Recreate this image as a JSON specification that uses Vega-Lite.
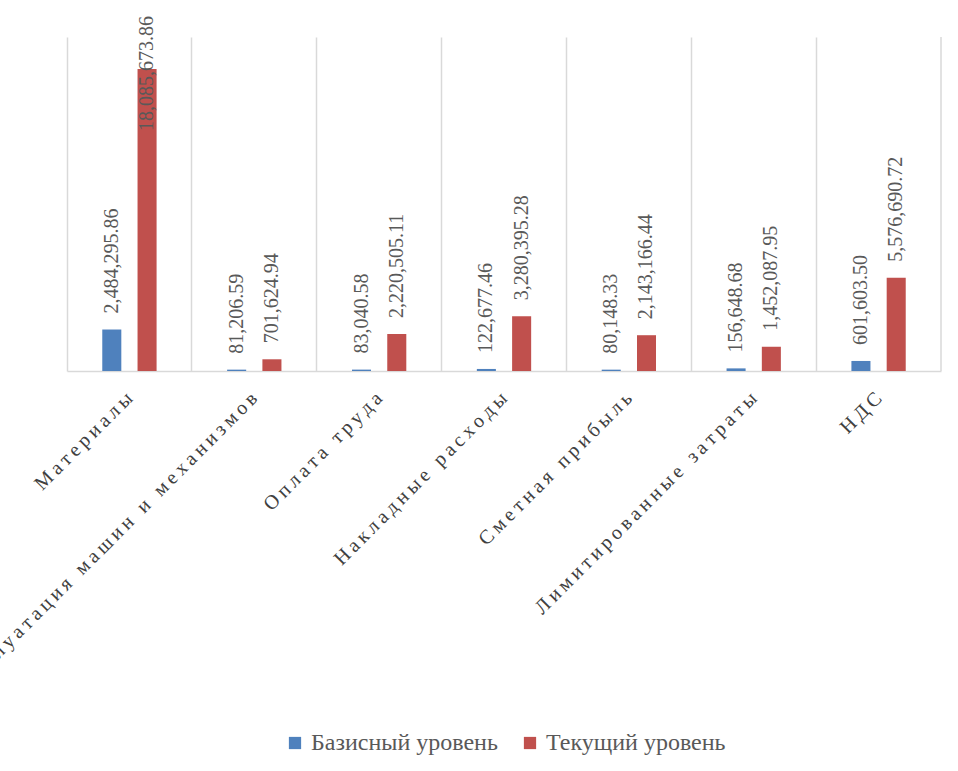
{
  "$schema": "https://vega.github.io/schema/vega-lite/v6.json",
  "autosize": {"type": "none"},
  "width": 874,
  "height": 334,
  "padding": {"left": 67, "top": 37, "right": 17, "bottom": 400},
  "background": "white",
  "config": {
    "view": {"stroke": null},
    "font": "Liberation Serif",
    "legend": {"layout": {"bottom": {"anchor": "middle"}}}
  },
  "data": {
    "values": [
      {"category": "Материалы", "series": "Базисный уровень", "value": 2484295.86},
      {"category": "Материалы", "series": "Текущий уровень", "value": 18085673.86},
      {"category": "Эксплуатация машин и механизмов", "series": "Базисный уровень", "value": 81206.59},
      {"category": "Эксплуатация машин и механизмов", "series": "Текущий уровень", "value": 701624.94},
      {"category": "Оплата труда", "series": "Базисный уровень", "value": 83040.58},
      {"category": "Оплата труда", "series": "Текущий уровень", "value": 2220505.11},
      {"category": "Накладные расходы", "series": "Базисный уровень", "value": 122677.46},
      {"category": "Накладные расходы", "series": "Текущий уровень", "value": 3280395.28},
      {"category": "Сметная прибыль", "series": "Базисный уровень", "value": 80148.33},
      {"category": "Сметная прибыль", "series": "Текущий уровень", "value": 2143166.44},
      {"category": "Лимитированные затраты", "series": "Базисный уровень", "value": 156648.68},
      {"category": "Лимитированные затраты", "series": "Текущий уровень", "value": 1452087.95},
      {"category": "НДС", "series": "Базисный уровень", "value": 601603.5},
      {"category": "НДС", "series": "Текущий уровень", "value": 5576690.72}
    ]
  },
  "encoding": {
    "x": {
      "field": "category",
      "type": "nominal",
      "sort": null,
      "scale": {"paddingInner": 0, "paddingOuter": 0},
      "axis": {
        "title": null,
        "bandPosition": 0,
        "ticks": false,
        "grid": true,
        "gridColor": "#d9d9d9",
        "gridWidth": 1.5,
        "domainColor": "#d9d9d9",
        "domainWidth": 1.5,
        "labelAngle": -45,
        "labelAlign": "right",
        "labelBaseline": "middle",
        "labelPadding": 24,
        "labelFont": "Liberation Serif",
        "labelFontSize": 20,
        "labelColor": "#404040",
        "labelLimit": 0,
        "labelOverlap": false,
        "labelExpr": "join(split(datum.label, ''), '\u2009')"
      }
    }
  },
  "layer": [
    {
      "mark": {"type": "bar"},
      "encoding": {
        "xOffset": {
          "field": "series",
          "type": "nominal",
          "scale": {"paddingInner": 0.46, "paddingOuter": 1.15}
        },
        "y": {
          "field": "value",
          "type": "quantitative",
          "scale": {"domain": [0, 20000000], "nice": false},
          "axis": null
        },
        "color": {
          "field": "series",
          "type": "nominal",
          "scale": {
            "domain": ["Базисный уровень", "Текущий уровень"],
            "range": ["#4F81BD", "#C0504D"]
          },
          "legend": {
            "title": null,
            "orient": "bottom",
            "direction": "horizontal",
            "symbolType": "square",
            "symbolSize": 150,
            "symbolStrokeWidth": 0,
            "labelFont": "Liberation Serif",
            "labelFontSize": 24,
            "labelColor": "#595959",
            "labelLimit": 0,
            "columnPadding": 20,
            "offset": 28
          }
        }
      }
    },
    {
      "mark": {"type": "rule", "color": "#d9d9d9", "strokeWidth": 1.5},
      "transform": [{"filter": "datum.category === 'НДС' && datum.series === 'Текущий уровень'"}],
      "encoding": {
        "x": {"field": "category", "type": "nominal", "sort": null, "bandPosition": 1}
      }
    },
    {
      "mark": {
        "type": "text",
        "angle": 270,
        "align": "left",
        "baseline": "middle",
        "dx": 16,
        "font": "Liberation Serif",
        "fontSize": 20,
        "color": "#595959"
      },
      "transform": [{"filter": "datum.value < 15000000"}],
      "encoding": {
        "xOffset": {
          "field": "series",
          "type": "nominal",
          "scale": {"paddingInner": 0.46, "paddingOuter": 1.15}
        },
        "y": {"field": "value", "type": "quantitative"},
        "text": {"field": "value", "type": "quantitative", "format": ",.2f"}
      }
    },
    {
      "mark": {
        "type": "text",
        "angle": 270,
        "align": "right",
        "baseline": "middle",
        "dx": 53,
        "font": "Liberation Serif",
        "fontSize": 20,
        "color": "#595959"
      },
      "transform": [{"filter": "datum.value >= 15000000"}],
      "encoding": {
        "xOffset": {
          "field": "series",
          "type": "nominal",
          "scale": {"paddingInner": 0.46, "paddingOuter": 1.15}
        },
        "y": {"field": "value", "type": "quantitative"},
        "text": {"field": "value", "type": "quantitative", "format": ",.2f"}
      }
    }
  ]
}
